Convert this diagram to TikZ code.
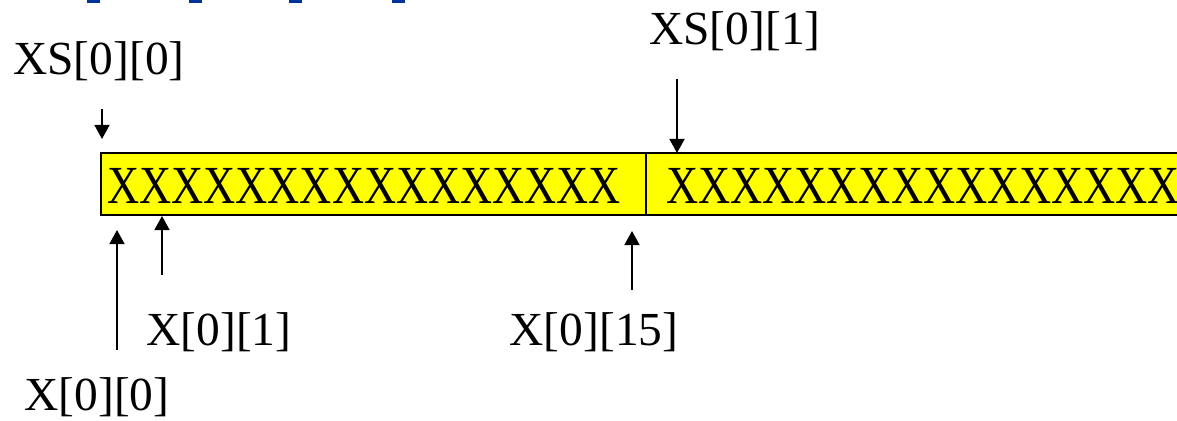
\documentclass[tikz,border=0pt]{standalone}
\usepackage{fontspec}
\setmainfont{Liberation Serif}
\usepackage{xcolor}
\definecolor{cellyellow}{RGB}{255,255,0}
\definecolor{barblue}{RGB}{0,51,153}
\usetikzlibrary{arrows.meta}

\begin{document}
\begin{tikzpicture}[
  x=0.02cm, y=-0.02cm,
  every node/.style={font=\fontsize{27}{30}\selectfont, inner sep=0pt},
  cellbox/.style={draw=black, fill=cellyellow, line width=1.1pt},
  celltext/.style={font=\fontsize{30.5}{34}\selectfont, anchor=base west, xscale=0.83, transform shape},
  ptr/.style={-{Triangle[width=8.5pt,length=8pt]}, line width=1.1pt},
]
  \useasboundingbox (0,0) rectangle (1177,420);
  \clip (0,0) rectangle (1177,420);

  % blue marks along the top edge
  \foreach \bx in {87,189,289,392}
    \fill[barblue] (\bx,0) rectangle ++(13,3);

  % Row 0: two strings of 16 characters
  \draw[cellbox] (101,153) rectangle (646,215);
  \draw[cellbox] (646,153) rectangle (1200,215);
  \node[celltext] (row0) at (107,203) {XXXXXXXXXXXXXXXX};
  \node[celltext] (row1) at (666,203) {XXXXXXXXXXXXXXXX};

  % pointers into the rows
  \node[anchor=base] (xs00) at (99,74) {XS[0][0]};
  \node[anchor=base] (xs01) at (735,44) {XS[0][1]};
  \node[anchor=base] (x00) at (97,410) {X[0][0]};
  \node[anchor=base] (x01) at (219,345) {X[0][1]};
  \node[anchor=base] (x015) at (594,345) {X[0][15]};

  \coordinate (xs00tail) at (102,109);
  \coordinate (xs00tip) at (102,139);
  \coordinate (xs01tail) at (677,79);
  \coordinate (xs01tip) at (677,153);
  \coordinate (x00tail) at (117,350);
  \coordinate (x00tip) at (117,230);
  \coordinate (x01tail) at (162,275);
  \coordinate (x01tip) at (162,216);
  \coordinate (x015tail) at (632,290);
  \coordinate (x015tip) at (632,231);

  \draw[ptr] (xs00tail) -- (xs00tip);
  \draw[ptr] (xs01tail) -- (xs01tip);
  \draw[ptr] (x00tail) -- (x00tip);
  \draw[ptr] (x01tail) -- (x01tip);
  \draw[ptr] (x015tail) -- (x015tip);
\end{tikzpicture}
\end{document}
